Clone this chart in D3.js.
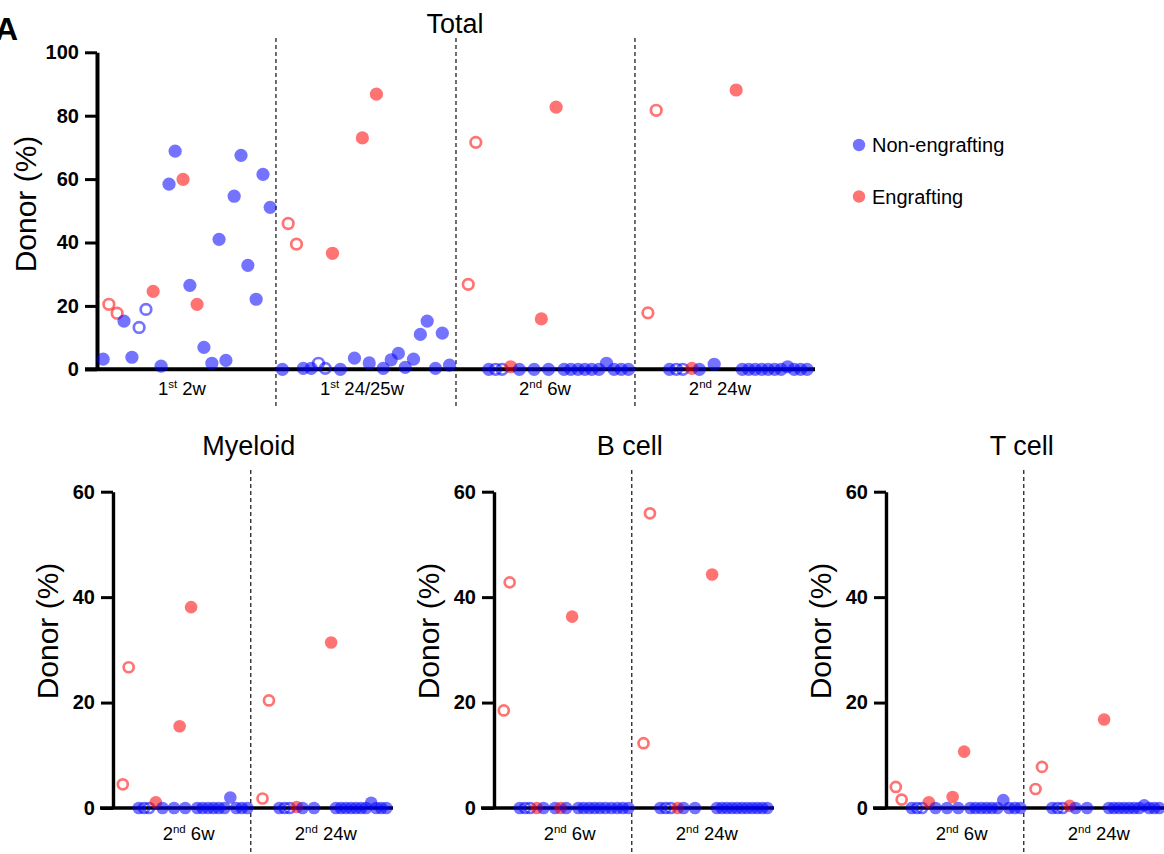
<!DOCTYPE html>
<html><head><meta charset="utf-8">
<script src="https://cdn.jsdelivr.net/npm/d3@7"></script>
<style>
body{margin:0;background:#fff}
svg{display:block;font-family:"Liberation Sans",Arial,Helvetica,sans-serif}
</style>
</head><body>
<svg id="c" width="1164" height="854"></svg>
<script>
// ---------- DATA ----------
// 1st transplant mice (same mice at 2w and 24/25w)
const slotsFirst = [1.7, 3.3, 5.6, 7.5, 9.7, 11.7, 13.6, 15.6, 17.8, 20.0, 21.7, 23.9, 25.8, 27.8, 29.7, 31.9, 33.9, 35.8, 38.1, 40.0, 41.9, 44.2, 46.1, 48.1];
const kindsFirst = ["N","Eo","Eo","N","N","No","No","E","N","N","N","E","N","E","N","N","N","N","N","N","N","N","N","N"];
const total2w    = [3.2, 20.5, 17.7, 15.2, 3.8, 13.2, 18.9, 24.6, 1.0, 58.4, 68.8, 59.9, 26.5, 20.5, 6.9, 1.9, 41.0, 2.8, 54.6, 67.5, 32.8, 22.1, 61.5, 51.1];
const total2425w = [0.0, 46.0, 39.5, 0.3, 0.3, 1.9, 0.3, 36.6, 0.0, null, 3.5, 73.0, 2.0, 86.8, 0.3, 3.0, 5.0, 0.6, 3.2, 11.0, 15.2, 0.3, 11.4, 1.3];

// 2nd transplant mice, 6 weeks
const slots6w = [3.5, 5.6, 9.2, 11.1, 12.9, 15.3, 17.7, 21.8, 23.8, 25.8, 27.9, 30.1, 32.0, 34.0, 35.9, 37.8, 39.8, 41.9, 44.0, 46.0, 48.0];
const kinds6w = ["Eo","Eo","N","No","No","E","N","N","E","N","E","N","N","N","N","N","N","N","N","N","N"];
const total6w   = [26.8, 71.6, 0, 0, 0, 0.8, 0, 0, 15.9, 0, 82.7, 0, 0, 0, 0, 0, 0, 1.9, 0, 0, 0];
const myeloid6w = [4.5, 26.7, 0, 0, 0, 1.1, 0, 0, 15.5, 0, 38.1, 0, 0, 0, 0, 0, 0, 2.0, 0, 0, 0];
const bcell6w   = [18.5, 42.8, 0, 0, 0, 0, 0, 0, 0, 0, 36.3, 0, 0, 0, 0, 0, 0, 0, 0, 0, 0];
const tcell6w   = [4.0, 1.6, 0, 0, 0, 1.1, 0, 0, 2.1, 0, 10.7, 0, 0, 0, 0, 0, 0, 1.5, 0, 0, 0];

// 2nd transplant mice, 24 weeks
const slots24w = [53.4, 55.7, 59.4, 61.3, 63.1, 65.6, 67.7, 71.8, 77.9, 79.6, 81.4, 83.2, 85.0, 86.8, 88.6, 90.4, 92.2, 94.0, 95.8, 97.6];
const kinds24w = ["Eo","Eo","N","No","No","E","N","N","E","N","N","N","N","N","N","N","N","N","N","N"];
const total24w   = [17.8, 81.7, 0, 0, 0, 0.3, 0, 1.6, 88.1, 0, 0, 0, 0, 0, 0, 0, 0.8, 0, 0, 0];
const myeloid24w = [1.8, 20.4, 0, 0, 0, 0.2, 0, 0, 31.4, 0, 0, 0, 0, 0, 0, 0, 1.0, 0, 0, 0];
const bcell24w   = [12.3, 55.9, 0, 0, 0, 0, 0, 0, 44.3, 0, 0, 0, 0, 0, 0, 0, 0, 0, 0, 0];
const tcell24w   = [3.6, 7.8, 0, 0, 0, 0.4, 0, 0, 16.8, 0, 0, 0, 0, 0, 0, 0, 0.5, 0, 0, 0];

// group labels / positions (in slot units)
const topGroupLabels = [["1","st"," 2w"], ["1","st"," 24/25w"], ["2","nd"," 6w"], ["2","nd"," 24w"]];
const topGroupCenters = [23.6, 73.6, 124.4, 173.0];
const topGroupOffsets = [0, 49.8, 99.6, 99.6];
const topDividers = [49.7, 99.7, 149.4];
const bottomGroupLabels = [["2","nd"," 6w"], ["2","nd"," 24w"]];
const bottomGroupCenters = [27, 76];
const bottomDividers = [49.2];
const topTicks = [0, 20, 40, 60, 80, 100];
const bottomTicks = [0, 20, 40, 60];
const legendLabels = ["Non-engrafting", "Engrafting"];
const panelTitles = ["Myeloid", "B cell", "T cell"];

// ---------- STYLE ----------
const BLUE = "rgba(0,0,255,0.55)", RED = "rgba(255,0,0,0.55)";
const svg = d3.select("#c");

function drawPoints(g, xs, vals, kinds, x, y, r) {
  const data = xs.map((d, i) => ({x: d, v: vals[i], k: kinds[i]})).filter(d => d.v != null);
  g.selectAll(null).data(data).join("circle")
    .attr("cx", d => x(d.x)).attr("cy", d => y(d.v))
    .attr("r", d => d.k.endsWith("o") ? r - 1.3 : r)
    .attr("fill", d => d.k.endsWith("o") ? "none" : (d.k[0] === "N" ? BLUE : RED))
    .attr("stroke", d => d.k.endsWith("o") ? (d.k[0] === "N" ? BLUE : RED) : "none")
    .attr("stroke-width", 2.7);
}

function groupLabel(g, x, y, parts, size) {
  const t = g.append("text").attr("x", x).attr("y", y).attr("text-anchor", "middle")
    .attr("font-size", size).attr("fill", "#000");
  t.append("tspan").text(parts[0]);
  t.append("tspan").attr("font-size", size * 0.62).attr("dy", -size * 0.38).text(parts[1]);
  t.append("tspan").attr("dy", size * 0.38).text(parts[2]);
}

function styleAxis(ax, w) {
  ax.select(".domain").attr("stroke-width", w).attr("stroke", "#000");
  ax.selectAll(".tick line").attr("stroke-width", 3).attr("stroke", "#000");
  ax.selectAll(".tick text").attr("font-size", 20).attr("font-weight", "bold")
    .attr("font-family", "'Liberation Sans',Arial,sans-serif").attr("fill", "#000");
}

// ---------- TOP PANEL ----------
{
  const xT = d3.scaleLinear().domain([-3.33, 199.4]).range([85, 815]);
  const yT = d3.scaleLinear().domain([0, 100]).range([369.3, 52.3]);
  const g = svg.append("g");

  topDividers.forEach(u => g.append("line")
    .attr("x1", xT(u)).attr("x2", xT(u)).attr("y1", 38).attr("y2", 406)
    .attr("stroke", "#222").attr("stroke-width", 1.3).attr("stroke-dasharray", "4,3"));

  g.append("line").attr("x1", xT.range()[0]).attr("x2", xT.range()[1])
    .attr("y1", yT(0)).attr("y2", yT(0)).attr("stroke", "#000").attr("stroke-width", 4);

  const ax = g.append("g").attr("transform", `translate(${xT(0)},0)`)
    .call(d3.axisLeft(yT).tickValues(topTicks).tickSize(12).tickSizeOuter(0).tickPadding(6));
  styleAxis(ax, 4);

  const shift = (arr, off) => arr.map(s => s + off);
  drawPoints(g, shift(slotsFirst, topGroupOffsets[0]), total2w, kindsFirst, xT, yT, 6.6);
  drawPoints(g, shift(slotsFirst, topGroupOffsets[1]), total2425w, kindsFirst, xT, yT, 6.6);
  drawPoints(g, shift(slots6w, topGroupOffsets[2]), total6w, kinds6w, xT, yT, 6.6);
  drawPoints(g, shift(slots24w, topGroupOffsets[3]), total24w, kinds24w, xT, yT, 6.6);

  topGroupLabels.forEach((p, i) => groupLabel(g, xT(topGroupCenters[i]), 395, p, 18.5));

  g.append("text").attr("x", 455).attr("y", 33).attr("text-anchor", "middle")
    .attr("font-size", 27).text("Total");
  g.append("text").attr("transform", `translate(36,204) rotate(-90)`).attr("text-anchor", "middle")
    .attr("font-size", 30).text("Donor (%)");

  // legend
  legendLabels.forEach((l, i) => {
    g.append("circle").attr("cx", 859).attr("cy", 145 + i * 51.5).attr("r", 6.2)
      .attr("fill", i === 0 ? BLUE : RED);
    g.append("text").attr("x", 872).attr("y", 152 + i * 51.5).attr("font-size", 20).text(l);
  });

  svg.append("text").attr("x", -5).attr("y", 40).attr("font-size", 32)
    .attr("font-weight", "bold").text("A");
}

// ---------- BOTTOM PANELS ----------
const bottomPanels = [
  {title: panelTitles[0], axisX: 113, v6: myeloid6w, v24: myeloid24w},
  {title: panelTitles[1], axisX: 494, v6: bcell6w, v24: bcell24w},
  {title: panelTitles[2], axisX: 886, v6: tcell6w, v24: tcell24w}
];
bottomPanels.forEach(p => {
  const xB = d3.scaleLinear().domain([-4.64, 100]).range([p.axisX - 13, p.axisX + 280]);
  const yB = d3.scaleLinear().domain([0, 60]).range([808, 491.7]);
  const g = svg.append("g");

  bottomDividers.forEach(u => g.append("line")
    .attr("x1", xB(u)).attr("x2", xB(u)).attr("y1", 470).attr("y2", 854)
    .attr("stroke", "#222").attr("stroke-width", 1.3).attr("stroke-dasharray", "4,3"));

  g.append("line").attr("x1", xB.range()[0]).attr("x2", xB.range()[1])
    .attr("y1", yB(0)).attr("y2", yB(0)).attr("stroke", "#000").attr("stroke-width", 3.6);

  const ax = g.append("g").attr("transform", `translate(${xB(0)},0)`)
    .call(d3.axisLeft(yB).tickValues(bottomTicks).tickSize(12).tickSizeOuter(0).tickPadding(6));
  styleAxis(ax, 3.4);

  drawPoints(g, slots6w, p.v6, kinds6w, xB, yB, 6.3);
  drawPoints(g, slots24w, p.v24, kinds24w, xB, yB, 6.3);

  bottomGroupLabels.forEach((lab, i) => groupLabel(g, xB(bottomGroupCenters[i]), 840, lab, 18.5));

  g.append("text").attr("x", xB(48.5)).attr("y", 455).attr("text-anchor", "middle")
    .attr("font-size", 27).text(p.title);
  g.append("text").attr("transform", `translate(${p.axisX - 55},631) rotate(-90)`)
    .attr("text-anchor", "middle").attr("font-size", 30).text("Donor (%)");
});
</script>
</body></html>
